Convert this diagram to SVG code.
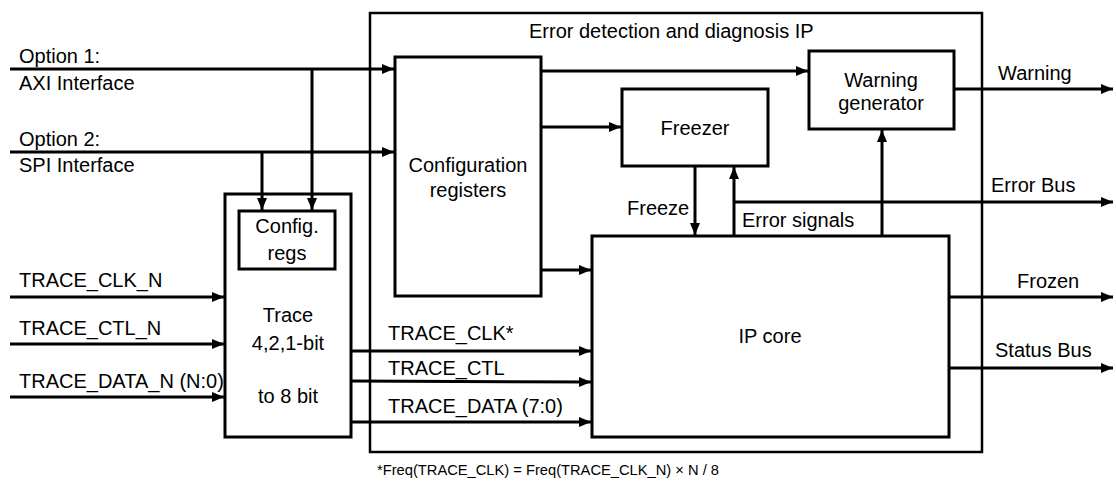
<svg xmlns="http://www.w3.org/2000/svg" width="1116" height="481" viewBox="0 0 1116 481">
<style>
  .box{fill:#fff;stroke:#000;stroke-width:3}
  .outer{fill:#fff;stroke:#000;stroke-width:2.5}
  .w{fill:none;stroke:#000;stroke-width:3}
  text{font-family:"Liberation Sans",Arial,sans-serif;font-size:20px;fill:#000}
  .c{text-anchor:middle}
  .fn{font-size:14.7px}
</style>
<defs>
  <marker id="ah" markerUnits="userSpaceOnUse" markerWidth="14" markerHeight="12" refX="12" refY="5" orient="auto">
    <path d="M0,0 L12,5 L0,10 Z" fill="#000"/>
  </marker>
</defs>
<g id="ip-box">
  <rect class="outer" x="370" y="13" width="612" height="439"/>
  <text x="529" y="38">Error detection and diagnosis IP</text>
</g>
<g id="config-registers">
  <rect class="box" x="395" y="57" width="146" height="239"/>
  <text class="c" x="468" y="172">Configuration</text>
  <text class="c" x="468" y="197">registers</text>
</g>
<g id="freezer">
  <rect class="box" x="622" y="89" width="146" height="77"/>
  <text class="c" x="695" y="135">Freezer</text>
</g>
<g id="warning-generator">
  <rect class="box" x="809" y="51" width="145" height="78"/>
  <text class="c" x="881" y="87">Warning</text>
  <text class="c" x="881" y="110">generator</text>
</g>
<g id="ip-core">
  <rect class="box" x="592" y="236" width="357" height="201"/>
  <text class="c" x="770" y="343">IP core</text>
</g>
<g id="trace">
  <rect class="box" x="225" y="194" width="126" height="243"/>
  <text class="c" x="288" y="322">Trace</text>
  <text class="c" x="288" y="350">4,2,1-bit</text>
  <text class="c" x="288" y="403">to 8 bit</text>
</g>
<g id="config-regs">
  <rect class="box" x="239" y="211" width="96" height="58"/>
  <text class="c" x="287" y="233">Config.</text>
  <text class="c" x="287" y="260">regs</text>
</g>
<g id="connectors">
  <line class="w" x1="10" y1="69" x2="394" y2="69" marker-end="url(#ah)"/>
  <line class="w" x1="10" y1="152" x2="394" y2="152" marker-end="url(#ah)"/>
  <line class="w" x1="312" y1="69" x2="312" y2="210" marker-end="url(#ah)"/>
  <line class="w" x1="262" y1="152" x2="262" y2="210" marker-end="url(#ah)"/>
  <line class="w" x1="541" y1="71" x2="808" y2="71" marker-end="url(#ah)"/>
  <line class="w" x1="541" y1="127" x2="621" y2="127" marker-end="url(#ah)"/>
  <line class="w" x1="541" y1="270" x2="591" y2="270" marker-end="url(#ah)"/>
  <line class="w" x1="695" y1="166" x2="695" y2="235" marker-end="url(#ah)"/>
  <line class="w" x1="734" y1="236" x2="734" y2="167" marker-end="url(#ah)"/>
  <line class="w" x1="882" y1="236" x2="882" y2="130" marker-end="url(#ah)"/>
  <line class="w" x1="734" y1="202" x2="1113" y2="202" marker-end="url(#ah)"/>
  <line class="w" x1="954" y1="89" x2="1113" y2="89" marker-end="url(#ah)"/>
  <line class="w" x1="949" y1="297" x2="1113" y2="297" marker-end="url(#ah)"/>
  <line class="w" x1="949" y1="368" x2="1113" y2="368" marker-end="url(#ah)"/>
  <line class="w" x1="10" y1="297" x2="224" y2="297" marker-end="url(#ah)"/>
  <line class="w" x1="10" y1="344" x2="224" y2="344" marker-end="url(#ah)"/>
  <line class="w" x1="10" y1="397" x2="224" y2="397" marker-end="url(#ah)"/>
  <line class="w" x1="351" y1="351" x2="591" y2="351" marker-end="url(#ah)"/>
  <line class="w" x1="351" y1="381" x2="591" y2="382" marker-end="url(#ah)"/>
  <line class="w" x1="351" y1="422" x2="591" y2="422" marker-end="url(#ah)"/>
</g>
<g id="labels">
  <text x="19" y="63">Option 1:</text>
  <text x="19" y="90">AXI Interface</text>
  <text x="19" y="146">Option 2:</text>
  <text x="19" y="172">SPI Interface</text>
  <text x="19" y="287">TRACE_CLK_N</text>
  <text x="19" y="335">TRACE_CTL_N</text>
  <text x="19" y="388">TRACE_DATA_N (N:0)</text>
  <text x="388" y="340">TRACE_CLK*</text>
  <text x="388" y="375">TRACE_CTL</text>
  <text x="388" y="413">TRACE_DATA (7:0)</text>
  <text x="627" y="215">Freeze</text>
  <text x="742" y="227">Error signals</text>
  <text x="998" y="80">Warning</text>
  <text x="991" y="192">Error Bus</text>
  <text x="1017" y="288">Frozen</text>
  <text x="995" y="357">Status Bus</text>
  <text class="fn" x="377" y="475">*Freq(TRACE_CLK) = Freq(TRACE_CLK_N) × N / 8</text>
</g>
</svg>
